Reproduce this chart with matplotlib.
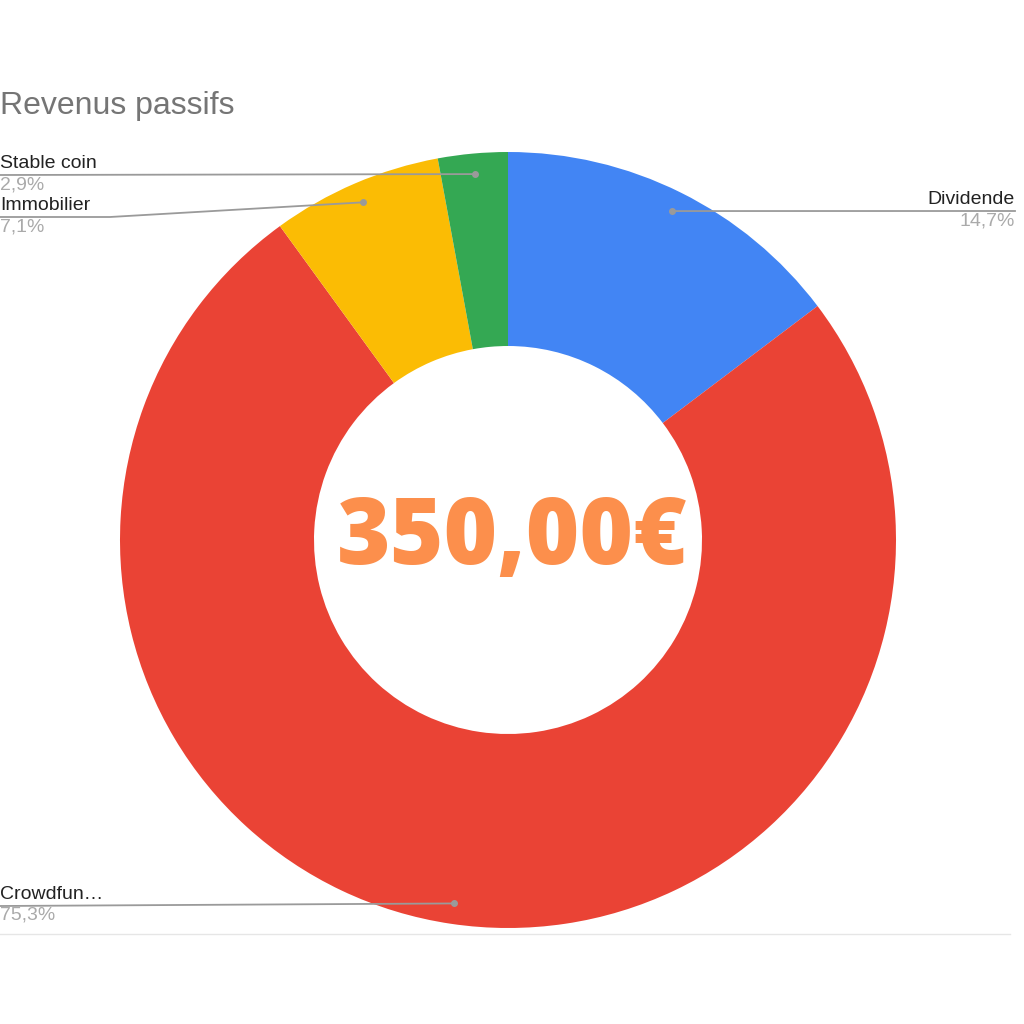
import numpy as np
import matplotlib.pyplot as plt

# data
labels = ["Dividende", "Crowdfun…", "Immobilier", "Stable coin"]
shares = [14.7, 75.3, 7.1, 2.9]
pct_labels = ["14,7%", "75,3%", "7,1%", "2,9%"]
colors = ["#4285F4", "#EA4335", "#FBBC04", "#34A853"]
title = "Revenus passifs"
total_text = "350,00€"

H = 1024
fig = plt.figure(figsize=(10.24, 10.24), dpi=100)
ax = fig.add_axes([0, 0, 1, 1])

cx, cy, R = 508, H - 540, 388
wedges, _ = ax.pie(shares, colors=colors, startangle=90, counterclock=False,
                   radius=R, center=(cx, cy),
                   wedgeprops=dict(width=R / 2, edgecolor="none", linewidth=0))
ax.set_xlim(0, 1024)
ax.set_ylim(0, 1024)
ax.set_aspect("equal")
ax.axis("off")

line_col = "#9a9a9a"
lab_font = ["Liberation Sans", "DejaVu Sans"]

# label anchor (x end of leader line, y of line in pixels, align, elbow x)
anchors = [(1015, 211, "right", None),
           (0, 906, "left", None),
           (0, 217, "left", 110),
           (0, 175, "left", None)]

for w, lab, pct, (lx, ly, ha, elbow) in zip(wedges, labels, pct_labels, anchors):
    mid = np.deg2rad((w.theta1 + w.theta2) / 2)
    dx = cx + 0.947 * R * np.cos(mid)
    dy = cy + 0.947 * R * np.sin(mid)
    yl = H - ly
    if elbow is None:
        xs, ys = [dx, lx], [dy, yl]
    else:
        xs, ys = [dx, elbow, lx], [dy, yl, yl]
    ax.plot(xs, ys, color=line_col, lw=1.3, zorder=3)
    ax.plot(dx, dy, "o", color=line_col, ms=4, zorder=4)
    ax.text(lx, yl + 3, lab, ha=ha, va="bottom", fontsize=14,
            color="#222222", family=lab_font)
    ax.text(lx, yl - 1, pct, ha=ha, va="top", fontsize=14,
            color="#aaaaaa", family=lab_font)

ax.text(0, H - 106, title, ha="left", va="center", fontsize=23,
        color="#757575", family=lab_font)

ax.text(cx + 4, cy, total_text, ha="center", va="center", fontsize=66,
        fontweight="heavy", color="#FC8F4C", family=["Open Sans", "DejaVu Sans"])

ax.plot([0, 1010], [H - 934, H - 934], color="#e6e6e6", lw=1)

fig.savefig("out.png", dpi=100, facecolor="white")
